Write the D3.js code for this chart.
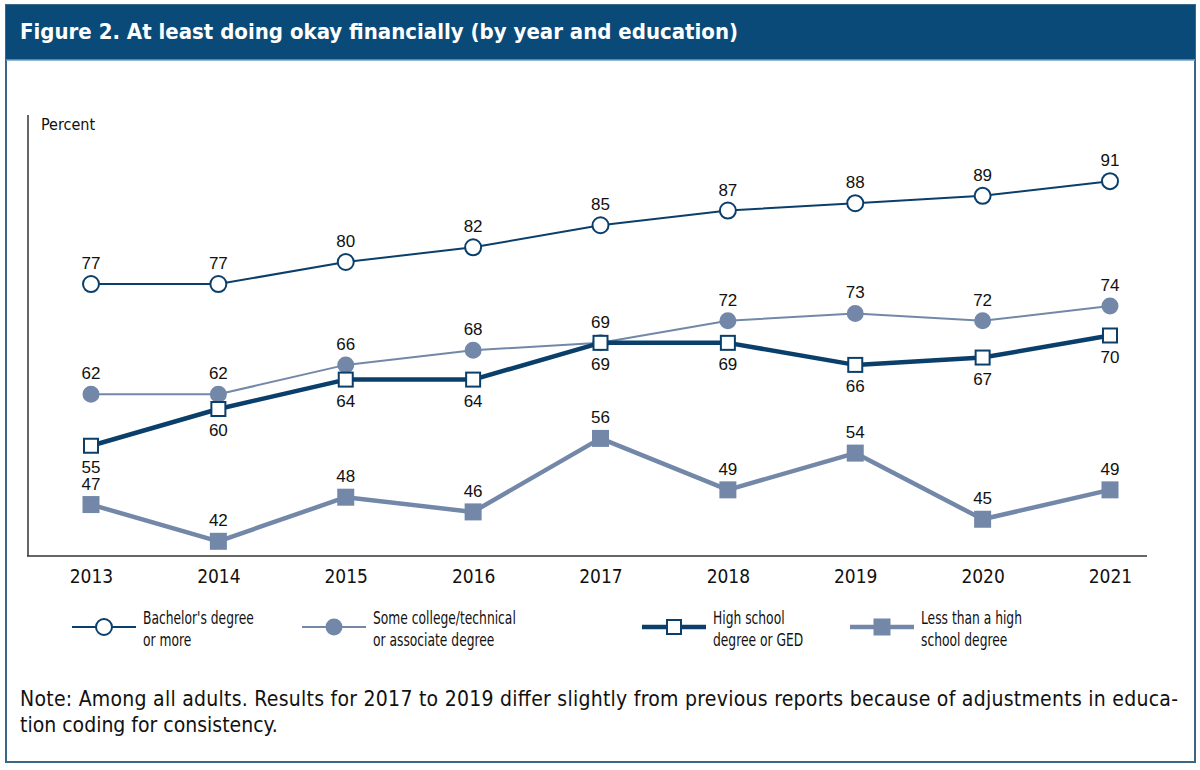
<!DOCTYPE html>
<html>
<head>
<meta charset="utf-8">
<script src="https://cdn.jsdelivr.net/npm/d3@7"></script>
<style>
  body { margin: 0; background: #fff; }
  svg { display: block; }
  .narrow { font-family: "DejaVu Sans Condensed", "Liberation Sans Narrow", sans-serif; }
  .num { font-family: "Liberation Sans", Arial, sans-serif; }
</style>
</head>
<body>
<svg id="chart"></svg>
<script>
// Datos
const years = [2013, 2014, 2015, 2016, 2017, 2018, 2019, 2020, 2021];
const bachelor = [77, 77, 80, 82, 85, 87, 88, 89, 91];
const someCollege = [62, 62, 66, 68, 69, 72, 73, 72, 74];
const highSchool = [55, 60, 64, 64, 69, 69, 66, 67, 70];
const lessThanHS = [47, 42, 48, 46, 56, 49, 54, 45, 49];
const seriesNames = ["Bachelor's degree|or more", "Some college/technical|or associate degree", "High school|degree or GED", "Less than a high|school degree"];

const width = 1200, height = 770;
const navy = '#0b3f6b', steel = '#7388a9';

const svg = d3.select('#chart')
    .attr('width', width)
    .attr('height', height);

// Marco y barra del título
svg.append('rect')
    .attr('x', 6).attr('y', 5).attr('width', 1189).attr('height', 757)
    .attr('fill', '#fff').attr('stroke', '#3b6685').attr('stroke-width', 2);
svg.append('rect')
    .attr('x', 6).attr('y', 5).attr('width', 1189).attr('height', 55)
    .attr('fill', '#0a4a78');
svg.append('line')
    .attr('x1', 6).attr('x2', 1195).attr('y1', 60).attr('y2', 60)
    .attr('stroke', '#6f9fc4').attr('stroke-width', 1.5);
svg.append('text')
    .attr('class', 'narrow')
    .attr('x', 20).attr('y', 39)
    .attr('fill', '#fff')
    .style('font-size', '22px').style('font-weight', 'bold')
    .text('Figure 2. At least doing okay financially (by year and education)');

// Escalas
const x = d3.scaleLinear().domain([2013, 2021]).range([91, 1110]);
const y = d3.scaleLinear().domain([40, 100]).range([556, 115]);

// Ejes
svg.append('line')
    .attr('x1', 28).attr('x2', 28).attr('y1', y(100)).attr('y2', y(40))
    .attr('stroke', '#333').attr('stroke-width', 1.5);

const xAxis = svg.append('g')
    .attr('transform', `translate(0,${y(40)})`)
    .call(d3.axisBottom(x).tickValues(years).tickFormat(d3.format('d')).tickSize(0).tickPadding(14));
xAxis.select('.domain').attr('d', `M27,0H1147`).attr('stroke', '#333').attr('stroke-width', 1.5);
xAxis.selectAll('text')
    .attr('class', 'narrow')
    .attr('fill', '#111')
    .style('font-size', '19px');

svg.append('text')
    .attr('class', 'narrow')
    .attr('x', 41).attr('y', 130)
    .attr('fill', '#111')
    .style('font-size', '16px')
    .text('Percent');

// Series
const series = [
    { values: bachelor, color: navy, width: 2, marker: 'circle', fill: '#fff', size: 8, labelPos: years.map(() => 'above') },
    { values: someCollege, color: steel, width: 2, marker: 'circle', fill: steel, size: 7.5, labelPos: years.map(() => 'above') },
    { values: highSchool, color: navy, width: 4.5, marker: 'square', fill: '#fff', size: 14, labelPos: years.map(() => 'below') },
    { values: lessThanHS, color: steel, width: 4.5, marker: 'square', fill: steel, size: 17, labelPos: years.map(() => 'above') }
];

const line = d3.line().x((d, i) => x(years[i])).y(d => y(d));

function drawMarker(g, s, cx, cy) {
    if (s.marker === 'circle') {
        g.append('circle')
            .attr('cx', cx).attr('cy', cy).attr('r', s.size)
            .attr('fill', s.fill)
            .attr('stroke', s.color).attr('stroke-width', 2);
    } else {
        const open = s.fill === '#fff';
        g.append('rect')
            .attr('x', cx - s.size / 2).attr('y', cy - s.size / 2)
            .attr('width', s.size).attr('height', s.size)
            .attr('fill', s.fill)
            .attr('stroke', open ? s.color : 'none').attr('stroke-width', 2);
    }
}

series.forEach(s => {
    const g = svg.append('g');
    g.append('path')
        .datum(s.values)
        .attr('d', line)
        .attr('fill', 'none')
        .attr('stroke', s.color)
        .attr('stroke-width', s.width)
        .attr('stroke-linejoin', 'round');
    s.values.forEach((v, i) => drawMarker(g, s, x(years[i]), y(v)));
    g.selectAll('.lbl')
        .data(s.values)
        .enter().append('text')
        .attr('class', 'num')
        .attr('x', (d, i) => x(years[i]))
        .attr('y', (d, i) => s.labelPos[i] === 'above' ? y(d) - 15 : y(d) + 27)
        .attr('text-anchor', 'middle')
        .attr('fill', '#111')
        .style('font-size', '17px')
        .text(d => d);
});

// Leyenda
const legendX = [72, 302, 642, 850];
const legend = svg.append('g').attr('transform', 'translate(0,627)');
series.forEach((s, i) => {
    const lx = legendX[i];
    const item = legend.append('g');
    item.append('line')
        .attr('x1', lx).attr('x2', lx + 64).attr('y1', 0).attr('y2', 0)
        .attr('stroke', s.color).attr('stroke-width', s.width);
    drawMarker(item, s, lx + 32, 0);
    item.append('text')
        .attr('class', 'narrow')
        .attr('transform', `translate(${lx + 71},0) scale(0.76,1)`)
        .attr('fill', '#111')
        .style('font-size', '18px')
        .selectAll('tspan')
        .data(seriesNames[i].split('|'))
        .enter().append('tspan')
        .attr('x', 0)
        .attr('dy', (d, j) => j === 0 ? -3 : 22)
        .text(d => d);
});

// Nota
svg.append('text')
    .attr('class', 'narrow')
    .attr('fill', '#111')
    .style('font-size', '21px')
    .selectAll('tspan')
    .data(['Note: Among all adults. Results for 2017 to 2019 differ slightly from previous reports because of adjustments in educa-',
           'tion coding for consistency.'])
    .enter().append('tspan')
    .attr('x', 20)
    .attr('y', (d, i) => 706 + i * 26)
    .attr('textLength', (d, i) => i === 0 ? 1158 : null)
    .text(d => d);
</script>
</body>
</html>
